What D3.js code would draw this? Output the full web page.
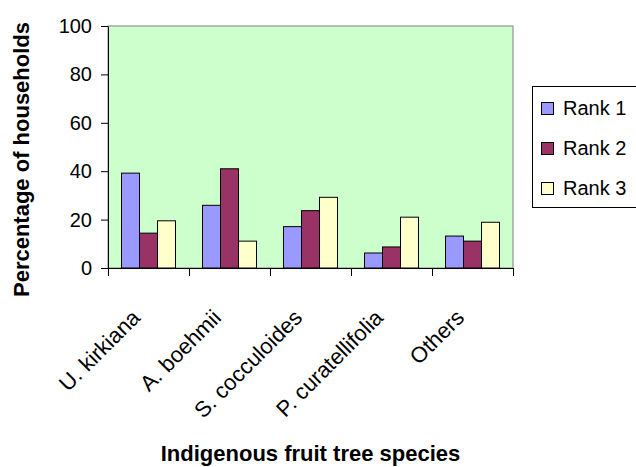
<!DOCTYPE html>
<html>
<head>
<meta charset="utf-8">
<script src="https://cdn.jsdelivr.net/npm/d3@7"></script>
<style>
  html, body { margin: 0; padding: 0; background: #fff; }
  svg { display: block; font-family: "Liberation Sans", Arial, sans-serif; }
</style>
</head>
<body>
<svg id="chart" width="636" height="467"></svg>
<script>
const categories = ["U. kirkiana", "A. boehmii", "S. cocculoides", "P. curatellifolia", "Others"];
const seriesNames = ["Rank 1", "Rank 2", "Rank 3"];
const rank1 = [39.2, 25.9, 17.1, 6.2, 13.2];
const rank2 = [14.4, 41.0, 23.7, 8.7, 11.1];
const rank3 = [19.5, 11.1, 29.2, 21.0, 18.9];
const seriesColors = ["#9999FF", "#993366", "#FFFFCC"];
const yTicks = [0, 20, 40, 60, 80, 100];
const yTitle = "Percentage of households";
const xTitle = "Indigenous fruit tree species";

const series = [rank1, rank2, rank3];
const svg = d3.select("#chart");
const FONT = "'Liberation Sans', Arial, sans-serif";
const L = 108, R = 513, T = 26, B = 268;

const x = d3.scaleBand().domain(categories).range([L, R]).paddingInner(0).paddingOuter(0);
const gap = x.bandwidth() / 4.5 * 0.75;
const x1 = d3.scaleBand().domain(seriesNames).range([gap, x.bandwidth() - gap]).padding(0);
const y = d3.scaleLinear().domain([0, 100]).range([B, T]);

// plot background
svg.append("rect").attr("x", L).attr("y", T).attr("width", R - L).attr("height", B - T)
  .attr("fill", "#CCFFCC").attr("stroke", "#808080").attr("stroke-width", 1);

// bars
const groups = svg.append("g").selectAll("g").data(categories).join("g")
  .attr("transform", d => `translate(${x(d)},0)`);
groups.selectAll("rect")
  .data((d, i) => series.map((s, j) => ({ name: seriesNames[j], value: s[i], color: seriesColors[j] })))
  .join("rect")
  .attr("x", d => x1(d.name))
  .attr("y", d => y(d.value))
  .attr("width", x1.bandwidth())
  .attr("height", d => B - y(d.value))
  .attr("fill", d => d.color)
  .attr("stroke", "#000").attr("stroke-width", 1);

// y axis
const yAxis = svg.append("g").attr("transform", `translate(${L},0)`)
  .call(d3.axisLeft(y).tickValues(yTicks).tickSize(7).tickPadding(9).tickSizeOuter(0));
yAxis.select(".domain").attr("stroke", "#000");
yAxis.selectAll("text").attr("font-size", "20px").attr("fill", "#000")
  .attr("font-family", FONT);

// x axis (ticks at category boundaries)
const xAxisG = svg.append("g");
xAxisG.append("line").attr("x1", L).attr("x2", R).attr("y1", B + 0.5).attr("y2", B + 0.5).attr("stroke", "#000");
const bounds = categories.map(c => x(c)).concat([R]);
xAxisG.selectAll("line.tick").data(bounds).join("line").attr("class", "tick")
  .attr("x1", d => Math.round(d) + 0.5).attr("x2", d => Math.round(d) + 0.5)
  .attr("y1", B).attr("y2", B + 8).attr("stroke", "#000");

// x labels
svg.append("g").selectAll("text").data(categories).join("text")
  .attr("transform", d => `translate(${x(d) + x.bandwidth() / 2 - 7},${319}) rotate(-45)`)
  .attr("text-anchor", "end")
  .attr("font-size", "22px")
  .attr("fill", "#000")
  .text(d => d);

// axis titles
svg.append("text")
  .attr("transform", `translate(29,${(21 + 298) / 2}) rotate(-90)`)
  .attr("text-anchor", "middle")
  .attr("font-size", "22px").attr("font-weight", "bold")
  .text(yTitle);
svg.append("text")
  .attr("x", (L + R) / 2).attr("y", 461)
  .attr("text-anchor", "middle")
  .attr("font-size", "22px").attr("font-weight", "bold")
  .text(xTitle);

// legend
const lg = svg.append("g");
lg.append("rect").attr("x", 532.5).attr("y", 86.5).attr("width", 120).attr("height", 121)
  .attr("fill", "#fff").attr("stroke", "#000");
const items = lg.selectAll("g.item").data(seriesNames).join("g").attr("class", "item")
  .attr("transform", (d, i) => `translate(0,${115 + i * 40})`);
items.append("rect").attr("x", 541.5).attr("y", -12.5).attr("width", 12).attr("height", 12)
  .attr("fill", (d, i) => seriesColors[i]).attr("stroke", "#000");
items.append("text").attr("x", 563).attr("y", 0)
  .attr("font-size", "20px").attr("fill", "#000").text(d => d);
</script>
</body>
</html>
